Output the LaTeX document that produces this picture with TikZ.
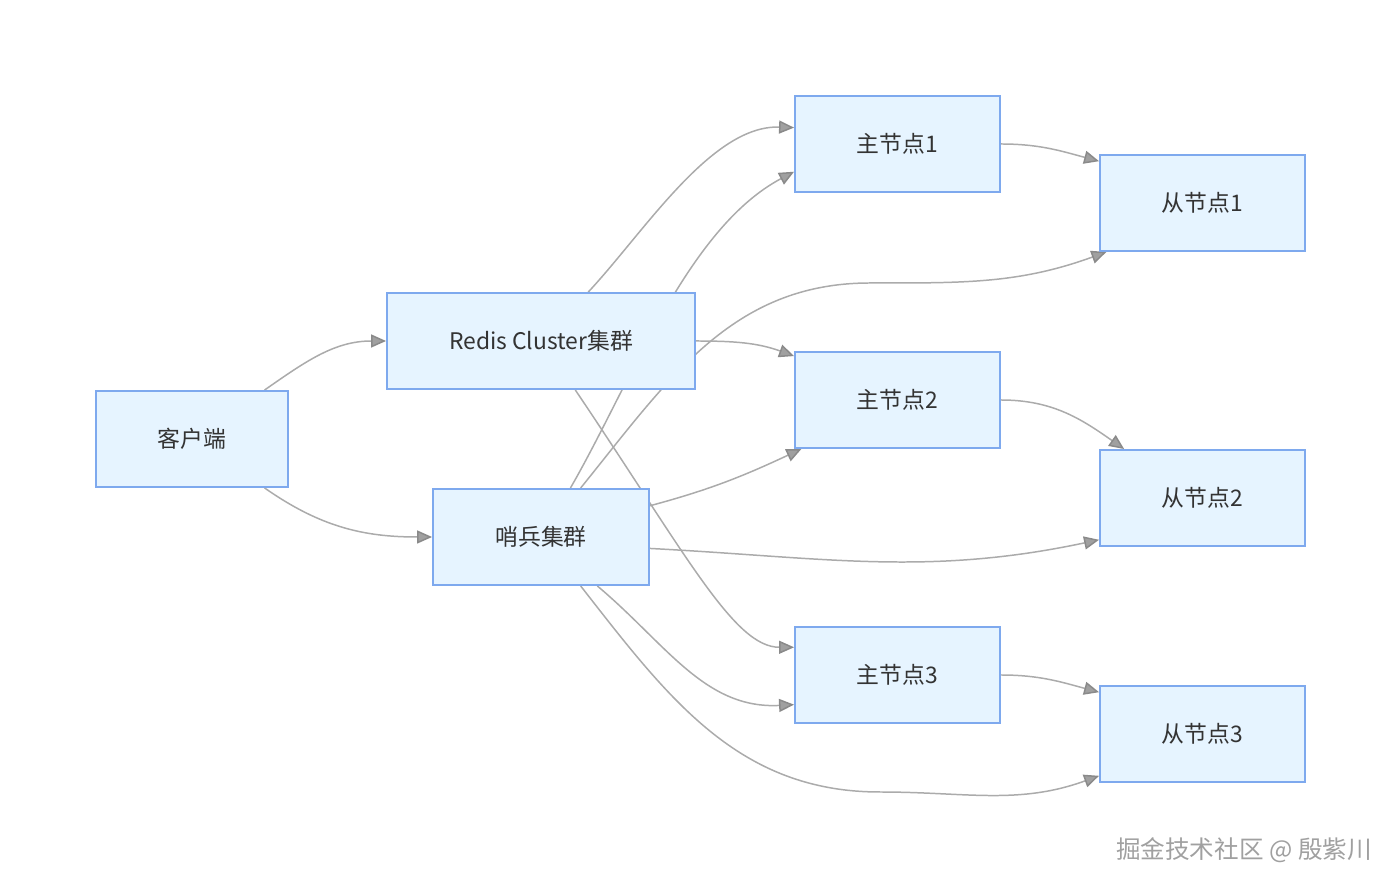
\documentclass[tikz,border=0pt]{standalone}
\usepackage{fontspec}
\setmainfont{Noto Sans CJK SC}
\usepackage{tikz}
\usetikzlibrary{arrows.meta}
\usetikzlibrary{backgrounds}
\definecolor{boxfill}{HTML}{E6F4FF}
\definecolor{boxline}{HTML}{7EA9EE}
\definecolor{linkgray}{HTML}{ABABAB}
\definecolor{tipgray}{HTML}{A0A0A0}
\definecolor{tipedge}{HTML}{8A8A8A}
\definecolor{textdark}{HTML}{333333}
\definecolor{markgray}{HTML}{A0A0A0}

\begin{document}
\begin{tikzpicture}[x=0.02cm, y=0.02cm,
        box/.style={rectangle, draw=boxline, fill=boxfill, line width=1.1pt, minimum height=1.92cm, text=textdark, font=\fontsize{13pt}{15pt}\selectfont},
        link/.style={draw=linkgray, line width=0.85pt, -{Triangle[length=0.3cm, width=0.26cm, fill=tipgray, color=tipedge]}}]
        	\useasboundingbox (0,0) rectangle (1400,889);
        	\node [box, minimum width=3.84cm] (client) at (192,450) {客户端};
        	\node [box, minimum width=6.16cm] (redis) at (541,548) {Redis Cluster集群};
        	\node [box, minimum width=4.32cm] (sentinel) at (541,352) {哨兵集群};
        	\node [box, minimum width=4.1cm] (m1) at (897.5,745) {主节点1};
        	\node [box, minimum width=4.1cm] (m2) at (897.5,489) {主节点2};
        	\node [box, minimum width=4.1cm] (m3) at (897.5,214) {主节点3};
        	\node [box, minimum width=4.1cm] (s1) at (1202.5,686) {从节点1};
        	\node [box, minimum width=4.1cm] (s2) at (1202.5,391) {从节点2};
        	\node [box, minimum width=4.1cm] (s3) at (1202.5,155) {从节点3};
        	\node [text=markgray, font=\fontsize{14pt}{16pt}\selectfont] (mark) at (1244,39) {掘金技术社区 @ 殷紫川};
        	\begin{pgfonlayer}{background}
        	\draw [link] (client.34) to[out=35, in=180] (redis.west);
        	\draw [link] (client.-34) to[out=-35, in=180] (sentinel.west);
        	\draw [link] (redis.46) to[out=47, in=178, looseness=0.8] (m1.171);
        	\draw [link] (redis.east) to[out=0, in=160] (m2.157);
        	\draw [link] (redis.-55) to[out=-56, in=180, out distance=4cm, in distance=1.2cm] (m3.165);
        	\draw [link] (sentinel.59) to[out=60, in=208, looseness=0.8] (m1.-165);
        	\draw [link] (sentinel.51) to[out=51, in=180] (870,606) to[out=0, in=200] (s1.207);
        	\draw [link] (sentinel.16) to[out=15, in=205] (m2.207);
        	\draw [link] (sentinel.-6) to[out=-3, in=192] (s2.202);
        	\draw [link] (sentinel.-41) to[out=-40, in=183] (m3.196);
        	\draw [link] (sentinel.-51) to[out=-52, in=180] (880,97) to[out=0, in=200] (s3.202);
        	\draw [link] (m1.east) to[out=0, in=165] (s1.158);
        	\draw [link] (m2.east) to[out=0, in=145] (s2.148);
        	\draw [link] (m3.east) to[out=0, in=165] (s3.158);
        	\end{pgfonlayer}
        \end{tikzpicture}
\end{document}
